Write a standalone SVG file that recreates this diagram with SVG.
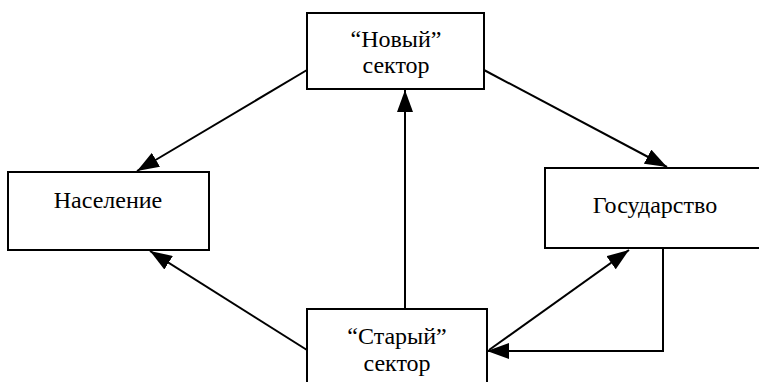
<svg xmlns="http://www.w3.org/2000/svg" width="759" height="382" viewBox="0 0 759 382">
<style>
.box{fill:#fff;stroke:#000;stroke-width:2}
.lbl{font-family:"Liberation Serif","Times New Roman",serif;font-size:24px;fill:#000;text-anchor:middle}
.con{fill:none;stroke:#000;stroke-width:2}
</style>
<defs>
<marker id="ah" viewBox="0 0 22 16" refX="22" refY="8" markerWidth="22" markerHeight="16" markerUnits="userSpaceOnUse" orient="auto">
<path d="M0,0 L22,8 L0,16 Z" fill="#000"/>
</marker>
</defs>
<rect width="759" height="382" fill="#fff"/>
<g id="connectors">
<line class="con" x1="307" y1="70" x2="137" y2="171" marker-end="url(#ah)"/>
<line class="con" x1="484" y1="70" x2="667" y2="167" marker-end="url(#ah)"/>
<line class="con" x1="405" y1="309" x2="405" y2="90" marker-end="url(#ah)"/>
<line class="con" x1="307" y1="350" x2="150" y2="251" marker-end="url(#ah)"/>
<line class="con" x1="489" y1="350" x2="629" y2="250" marker-end="url(#ah)"/>
<polyline class="con" points="663,248 663,351 487,351" marker-end="url(#ah)"/>
</g>
<g id="novy">
<rect class="box" x="307" y="13" width="177" height="76"/>
<text class="lbl" x="396" y="47">“Новый”</text>
<text class="lbl" x="396" y="73">сектор</text>
</g>
<g id="naselenie">
<rect class="box" x="8" y="172" width="201" height="78"/>
<text class="lbl" x="108" y="208">Население</text>
</g>
<g id="gosudarstvo">
<rect class="box" x="545" y="168" width="225" height="80"/>
<text class="lbl" x="655" y="213">Государство</text>
</g>
<g id="stary">
<rect class="box" x="307" y="309" width="180" height="80"/>
<text class="lbl" x="397" y="344">“Старый”</text>
<text class="lbl" x="397" y="371">сектор</text>
</g>
</svg>
